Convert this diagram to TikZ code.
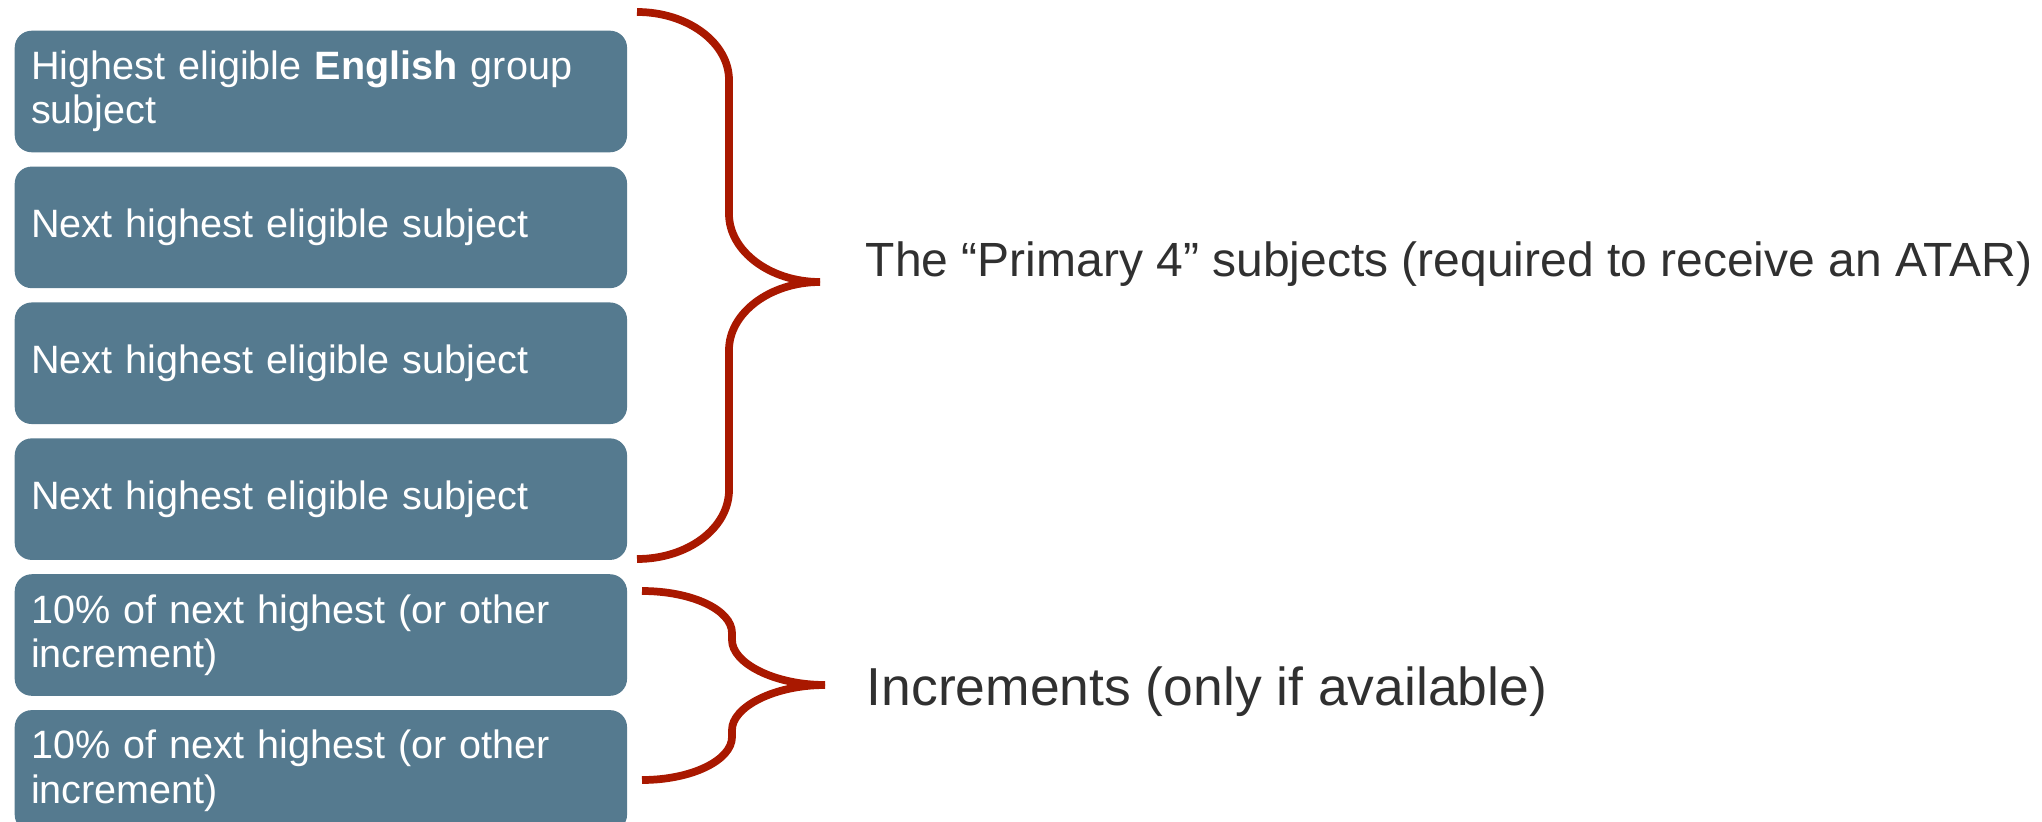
\documentclass[tikz,border=0pt]{standalone}
\usepackage{fontspec}
\setmainfont{Liberation Sans}
\usepackage{tikz}
\usetikzlibrary{positioning}
\definecolor{boxblue}{HTML}{557A8F}
\definecolor{bracered}{HTML}{A91800}
\definecolor{labelgrey}{HTML}{303030}

\begin{document}
\begin{tikzpicture}[x=0.01cm, y=-0.01cm,
    subjbox/.style={fill=boxblue, rounded corners=0.17cm, text=white, anchor=north west,
        minimum height=1.215cm, text width=5.79cm, inner xsep=0.165cm, inner ysep=0pt,
        align=left, font=\fontsize{11.25}{12.6}\selectfont},
    bracket/.style={draw=bracered, line width=2.2pt},
    sidetext/.style={text=labelgrey, anchor=base west, inner sep=0pt}]
    \useasboundingbox (0,0) rectangle (2042,821);
    \node (s1) [subjbox] at (14,30) {Highest eligible \textbf{English} group\\subject};
    \node (s2) [subjbox, below=0.129cm of s1] {Next highest eligible subject};
    \node (s3) [subjbox, below=0.129cm of s2] {Next highest eligible subject};
    \node (s4) [subjbox, below=0.129cm of s3] {Next highest eligible subject};
    \node (inc1) [subjbox, below=0.129cm of s4] {10\% of next highest (or other\\increment)};
    \node (inc2) [subjbox, below=0.129cm of inc1] {10\% of next highest (or other\\increment)};
    \draw [bracket] (637,12) .. controls (688,12) and (729,43) .. (729,80) -- (729,214)
        .. controls (729,251) and (770,282) .. (820,282);
    \draw [bracket] (820,282) .. controls (770,282) and (729,313) .. (729,350) -- (729,490)
        .. controls (729,528) and (688,559) .. (637,559);
    \draw [bracket] (642,591) .. controls (692,591) and (732,610) .. (732,633) -- (732,640)
        .. controls (732,663) and (774,685) .. (825,685);
    \draw [bracket] (825,685) .. controls (774,685) and (732,707) .. (732,730) -- (732,737)
        .. controls (732,760) and (692,780) .. (642,780);
    \node (primary) [sidetext, font=\fontsize{13.65}{16}\selectfont] at (865,276) {The “Primary 4” subjects (required to receive an ATAR)};
    \node (incr) [sidetext, font=\fontsize{15.2}{18}\selectfont] at (866,705) {Increments (only if available)};
\end{tikzpicture}
\end{document}
